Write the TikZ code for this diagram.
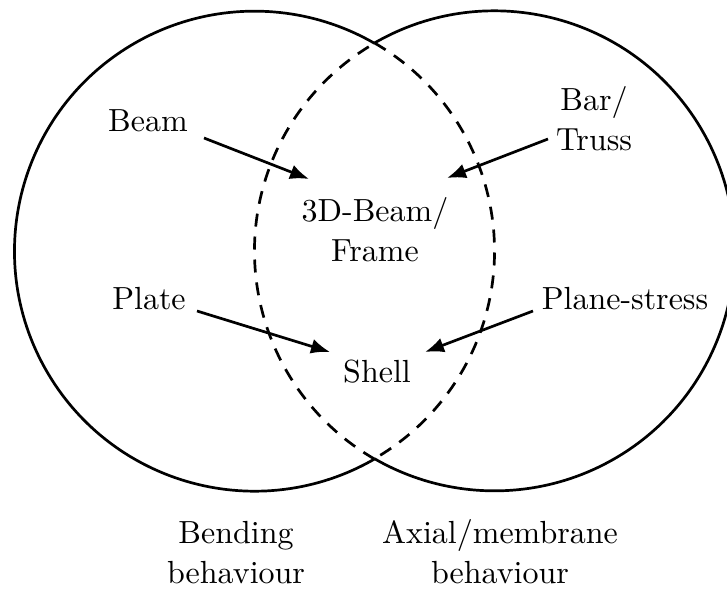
\documentclass[tikz,border=0pt]{standalone}
\usetikzlibrary{arrows.meta}
\begin{document}
\begin{tikzpicture}[x=1pt,y=-1pt,
  txt/.style={font=\fontsize{10}{12.5}\selectfont, scale=3.2, inner sep=0pt, align=center, anchor=base},
  ring/.style={line width=2.7pt},
  lens/.style={line width=2.7pt, dash pattern=on 13pt off 10pt},
  arr/.style={line width=2.7pt, -{Latex[length=19pt,width=15pt]}}]
\useasboundingbox (0,0) rectangle (727,589);
% intersection points of the two circles
\coordinate (top) at (374.5,43);
\coordinate (bot) at (374.5,459);
% left circle (bending)
\draw[ring] (bot) arc[start angle=60, end angle=300, radius=240];
\draw[lens] (top) arc[start angle=-60, end angle=60, radius=240];
% right circle (axial/membrane)
\draw[ring] (top) arc[start angle=-120, end angle=120, radius=240];
\draw[lens] (bot) arc[start angle=120, end angle=240, radius=240];
% labels (base anchor = baseline of the last line)
\node[txt] (beam)  at (148,131) {Beam};
\node[txt] (bar)   at (594,150) {Bar/\\Truss};
\node[txt] (frame) at (375,261) {3D-Beam/\\Frame};
\node[txt] (plate) at (149,309) {Plate};
\node[txt] (plane) at (625,309) {Plane-stress};
\node[txt] (shell) at (377,382) {Shell};
\node[txt] (bend)  at (236,583) {Bending\\behaviour};
\node[txt] (axial) at (500,583) {Axial/membrane\\behaviour};
% arrow ends
\coordinate (beamOut)  at (204,138);
\coordinate (frameInL) at (309,179);
\coordinate (barOut)   at (548,139);
\coordinate (frameInR) at (447,178);
\coordinate (plateOut) at (197,311);
\coordinate (shellInL) at (330,352);
\coordinate (planeOut) at (533,311);
\coordinate (shellInR) at (425,352);
\draw[arr] (beamOut) -- (frameInL);
\draw[arr] (barOut) -- (frameInR);
\draw[arr] (plateOut) -- (shellInL);
\draw[arr] (planeOut) -- (shellInR);
\end{tikzpicture}
\end{document}
